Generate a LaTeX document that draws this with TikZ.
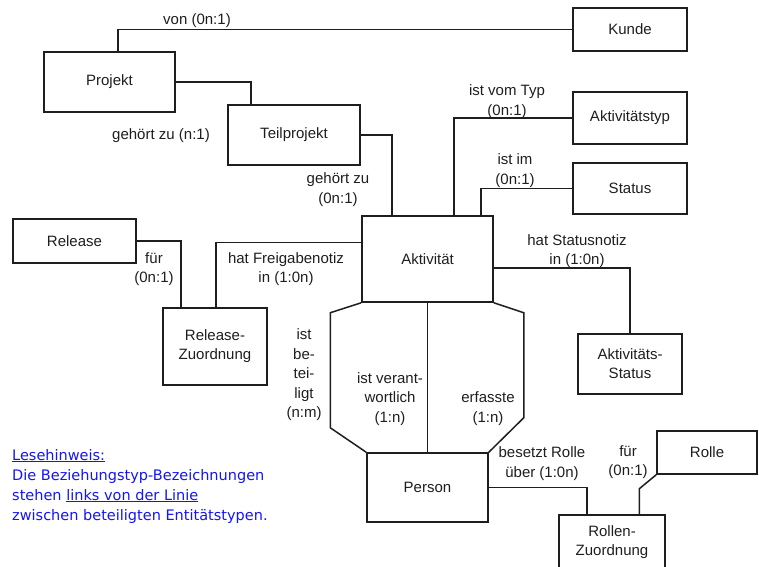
\documentclass[tikz,border=0pt]{standalone}
\usepackage{fontspec}
\setmainfont{Liberation Sans}
\newfontfamily\legendfont{DejaVu Sans}
\definecolor{ink}{RGB}{30,30,30}
\definecolor{hint}{RGB}{20,20,245}

\begin{document}
\begin{tikzpicture}[x=1pt,y=-1pt,
  entity/.style={draw=ink,line width=1.5pt,inner sep=0pt,text=ink,align=center,
    font=\fontsize{15}{19}\selectfont},
  rel/.style={text=ink,align=center,inner sep=0pt,font=\fontsize{15}{19.5}\selectfont},
  link/.style={draw=ink,line width=1.5pt},
  hint/.style={text=hint,anchor=base west,inner sep=0pt,
    font=\legendfont\fontsize{14.5}{20}\selectfont}]

\clip (0,0) rectangle (759,566);

% entity types
\node[entity,minimum width=114,minimum height=43] (kunde)   at (630,29.5)  {Kunde};
\node[entity,minimum width=131,minimum height=60] (projekt) at (109.5,82)  {Projekt};
\node[entity,minimum width=132,minimum height=60] (teil)    at (294,135)   {Teilprojekt};
\node[entity,minimum width=114,minimum height=52] (atyp)    at (630,118)   {Aktivitätstyp};
\node[entity,minimum width=114,minimum height=51] (status)  at (630,188.5) {Status};
\node[entity,minimum width=123,minimum height=44] (release) at (74.5,241)  {Release};
\node[entity,minimum width=131,minimum height=86] (akt)     at (427.5,259) {Aktivität};
\node[entity,minimum width=104,minimum height=77] (rz)      at (215,346.5) {Release-\\Zuordnung};
\node[entity,minimum width=104,minimum height=60] (astatus) at (630,364)   {Aktivitäts-\\Status};
\node[entity,minimum width=121,minimum height=69] (person)  at (427.5,487.5) {Person};
\node[entity,minimum width=100,minimum height=43] (rolle)   at (707,452.5) {Rolle};
\node[entity,minimum width=106,minimum height=60,text depth=8pt] (rolz) at (612,545) {Rollen-\\Zuordnung};

% relationship lines
\draw[link] ([xshift=8.5]projekt.north) |- (kunde.west);
\draw[link] (projekt.east) -| ([xshift=-43]teil.north);
\draw[link] (teil.east) -| ([xshift=-35.5]akt.north);
\draw[link] (atyp.west) -| ([xshift=26.5]akt.north);
\draw[link] (status.west) -| ([xshift=53.5]akt.north);
\draw[link] (release.east) -| ([xshift=-34]rz.north);
\draw[link] ([yshift=16.5]akt.west) -| ([xshift=1]rz.north);
\draw[link] ([yshift=-9]akt.east) -| (astatus.north);
\draw[link] (akt.south west) -- ++(-31,10) -- ++(0,115) -- (person.north west);
\draw[link] (akt.south) -- (person.north);
\draw[link] (akt.south east) -- ++(30,10) -- ++(0,105) -- (person.north east);
\draw[link] (person.east) -| ([xshift=-25]rolz.north);
\draw[link] (rolle.south west) -- ++(-17,14) coordinate (rk) -- (rk |- rolz.north);

% relationship names
\node[rel] (l1)  at (197,21)    {von (0n:1)};
\node[rel] (l2)  at (161,136)   {gehört zu (n:1)};
\node[rel] (l3)  at (338,189.5) {gehört zu\\(0n:1)};
\node[rel] (l4)  at (507,101.5) {ist vom Typ\\(0n:1)};
\node[rel] (l5)  at (515,170.5) {ist im\\(0n:1)};
\node[rel] (l6)  at (154,269)   {für\\(0n:1)};
\node[rel] (l7)  at (286,269)   {hat Freigabenotiz\\in (1:0n)};
\node[rel] (l8)  at (577,251)   {hat Statusnotiz\\in (1:0n)};
\node[rel] (l9)  at (304,375)   {ist\\be-\\tei-\\ligt\\(n:m)};
\node[rel] (l10) at (390,399)   {ist verant-\\wortlich\\(1:n)};
\node[rel] (l11) at (488,408.5) {erfasste\\(1:n)};
\node[rel] (l12) at (542,463.5) {besetzt Rolle\\über (1:0n)};
\node[rel] (l13) at (628,462)   {für\\(0n:1)};

% reading hint
\node[hint] (leg1) at (12,460) {\underline{Lesehinweis:}};
\node[hint] (leg2) at (12,480) {Die Beziehungstyp-Bezeichnungen};
\node[hint] (leg3) at (12,500) {stehen \underline{links von der Linie}};
\node[hint] (leg4) at (12,520) {zwischen beteiligten Entitätstypen.};
\end{tikzpicture}
\end{document}
